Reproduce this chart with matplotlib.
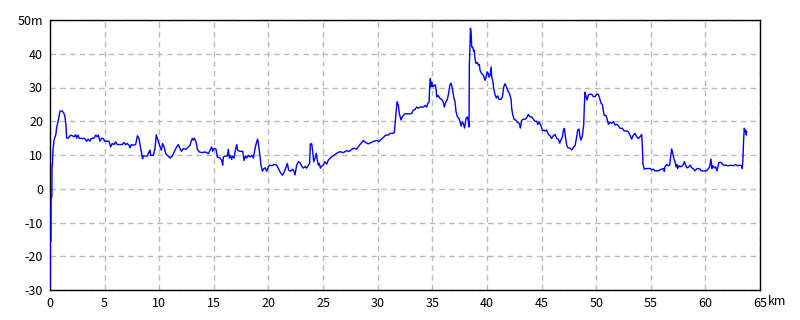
import numpy as np
import matplotlib.pyplot as plt

plt.rcParams['font.family'] = ['Noto Sans CJK JP', 'DejaVu Sans']

# distance (km) and elevation (m)
dist_km = [
    0.0, 0.02, 0.09, 0.1, 0.17, 0.19, 0.22, 0.27, 0.37, 0.46, 0.55, 0.61, 0.70, 0.82, 0.92,
    1.13, 1.28, 1.37, 1.46, 1.53, 1.68, 1.89, 2.04, 2.2, 2.35, 2.44, 2.56, 2.69, 2.81,
    3.17, 3.36, 3.5, 3.66, 3.78, 4.03, 4.18, 4.33, 4.42, 4.58, 4.7, 4.88, 5.0, 5.4,
    5.55, 5.7, 5.86, 6.0, 6.16, 6.62, 6.77, 6.93, 7.08, 7.23, 7.32, 7.45, 7.63, 7.84,
    8.0, 8.15, 8.3, 8.39, 8.48, 8.54, 8.91, 9.06, 9.15, 9.22, 9.46, 9.61, 9.73, 9.85,
    9.97, 10.19, 10.31, 10.44, 10.6, 10.8, 10.99, 11.2,
    11.44, 11.6, 11.75, 11.9, 12.05, 12.2, 12.45, 12.67, 12.82, 12.91, 13.03, 13.12,
    13.21, 13.37, 13.49, 13.67, 13.88, 14.19, 14.34, 14.5, 14.65, 14.8, 14.89, 15.01,
    15.2, 15.32, 15.56, 15.72, 15.81, 15.87, 16.02, 16.23, 16.33, 16.42, 16.54, 16.63,
    16.72, 16.85, 16.97, 17.09, 17.18, 17.39, 17.64, 17.76, 17.88, 18.0, 18.16, 18.31,
    18.49, 18.62, 18.77, 18.92, 19.01, 19.1, 19.23, 19.32, 19.44, 19.59, 19.71, 19.84,
    19.99, 20.14, 20.29, 20.51, 20.75, 20.9, 21.06, 21.27, 21.42, 21.54, 21.73, 21.85,
    22.03, 22.22, 22.34,
    22.43, 22.58, 22.74, 22.89, 23.04, 23.19, 23.35, 23.5, 23.65, 23.77, 23.83, 23.96,
    24.05, 24.14, 24.26, 24.38, 24.47, 24.57, 24.66, 24.75, 24.87, 25.02, 25.18, 25.33,
    25.48, 25.79, 26.03, 26.34, 26.55, 26.85, 27.16, 27.37, 27.62, 27.86, 28.07, 28.23,
    28.53, 28.69, 28.9, 29.14, 29.39, 29.6, 29.9, 30.12, 30.3, 30.52, 30.73, 30.97,
    31.13, 31.34, 31.52, 31.65, 31.77, 31.89, 31.98, 32.13, 32.26, 32.5, 32.96, 33.11,
    33.26,
    33.42, 33.57, 33.73, 33.88, 34.18, 34.34, 34.49, 34.58, 34.7, 34.76, 34.82, 34.88,
    34.95, 35.04, 35.16, 35.25, 35.34, 35.4, 35.5, 35.62, 35.71, 35.86, 36.01, 36.1,
    36.23, 36.38, 36.47, 36.6, 36.72, 36.84, 36.96, 37.08, 37.17, 37.3, 37.45, 37.54,
    37.63, 37.75, 37.87, 37.95, 38.09, 38.21, 38.3, 38.36, 38.39, 38.45, 38.49, 38.55,
    38.61, 38.7, 38.79, 38.85, 38.91, 39.0, 39.13, 39.22, 39.31, 39.37, 39.52, 39.68,
    39.83, 39.92, 40.01, 40.13, 40.19, 40.29, 40.38, 40.44, 40.53, 40.62, 40.74, 40.87,
    40.99, 41.11, 41.29, 41.42, 41.54, 41.66, 41.78, 41.9, 42.06, 42.21, 42.27, 42.36,
    42.48, 42.64, 42.82, 42.97, 43.06, 43.18, 43.34, 43.49, 43.64, 43.79, 43.95, 44.1,
    44.25, 44.4, 44.56, 44.65, 44.77, 44.96, 45.08, 45.26,
    45.32, 45.47, 45.63, 45.78, 45.93, 46.08, 46.24, 46.39, 46.54, 46.66, 46.78, 46.91,
    47.0, 47.09, 47.21, 47.3, 47.4, 47.61, 47.76, 47.91, 48.07, 48.22, 48.31, 48.43,
    48.52, 48.62, 48.74, 48.86, 48.92, 48.98, 49.07, 49.17, 49.29, 49.44, 49.59, 49.74,
    49.9, 50.05, 50.2, 50.32, 50.45, 50.57, 50.66, 50.75, 50.9, 51.03, 51.12, 51.27,
    51.42, 51.58, 51.73, 51.88, 52.03, 52.19, 52.4, 52.58, 52.8, 52.95, 53.1, 53.25,
    53.41, 53.56, 53.71, 53.86, 54.02, 54.17, 54.23, 54.29, 54.41, 54.63, 54.93, 55.09,
    55.24, 55.39, 55.7, 55.85, 56.0, 56.15, 56.24,
    56.3, 56.45, 56.6, 56.73, 56.82, 56.91, 57.0, 57.09, 57.22, 57.31, 57.4, 57.46,
    57.58, 57.73, 57.89, 57.98, 58.07, 58.19, 58.31, 58.5, 58.62, 58.74, 58.89, 59.05,
    59.2, 59.35, 59.5, 59.6, 59.81, 60.11, 60.27, 60.39, 60.51, 60.6, 60.69, 60.82,
    60.94, 61.06, 61.15, 61.24, 61.43, 61.64, 61.85, 62.1, 62.34, 62.56, 62.77, 62.95,
    63.17, 63.32, 63.38, 63.44, 63.5, 63.56, 63.62, 63.69, 63.75, 63.78,
]
elev_m = [
    -30, -15.5, -15.5, -2.5, -2.5, 7, 7, 11.4, 14.4, 15.4, 16.3, 18.3, 19.3, 21.3, 23,
    23, 22.3, 21.3, 18.8, 15, 15, 15.9, 15.7, 15.4, 16, 15, 15.9, 14.9, 14.9,
    14.9, 14.1, 14.7, 14.1, 14.9, 15, 15.9, 15.4, 15.9, 14.1, 14.9, 14.9, 14.1, 14.1,
    12.4, 13.4, 13.1, 13.9, 13.1, 13.1, 13.7, 13.1, 13.4, 12.9, 12.1, 13.1, 12.9, 13.1,
    15.7, 14.9, 11.9, 10.4, 8.9, 9.7, 9.7, 10.9, 11.4, 9.9, 9.9, 11.9, 16, 14.7,
    13.4, 11.4, 13.4, 12.4, 10.4, 9.7, 9.1, 9.7,
    11.4, 12.4, 13.1, 11.9, 11.1, 11.9, 11.7, 12.4, 12.9, 13.9, 14.9, 14.4,
    15, 13.9, 11.7, 10.9, 10.7, 10.9, 10.7, 10.4, 11.4, 12.4, 11.1, 11.9,
    11.7, 9.4, 9.1, 8.4, 7, 9.4, 9.7, 9.7, 11.7, 9.1, 9.9, 8.7,
    9.7, 9.1, 11.4, 13.1, 11.4, 11.1, 11.1, 8.4, 9.7, 9.1, 9.9, 9.4,
    9.9, 9.1, 11.9, 13.9, 14.7, 12.9, 9.4, 7, 5.2, 6, 6.2, 5.2,
    6.5, 7, 6.8, 7.2, 7, 6, 5, 4, 4.8, 5.8, 7.5, 5.5,
    5.2, 5.8, 5.2,
    4.1, 7.0, 8.0, 7.7, 6.7, 6.1, 6.6, 6.1, 7.0, 7.5, 13.3, 13.3,
    11, 8.0, 9.0, 10.5, 8.5, 7, 7.5, 6.1, 6.7, 7, 8.0, 7.3,
    8.5, 9.5, 10, 10.7, 11, 10.7, 11.3, 11, 11.7, 12, 11.7, 12.5,
    13.7, 14.3, 13.7, 13.3, 13.7, 14, 14.3, 14, 14.6, 15.2, 15.9, 15.9,
    16.4, 16.4, 16.6, 21.4, 25.8, 24.8, 22.3, 20.4, 21.4, 22.2, 22.2, 22.3,
    23.3,
    23.5, 24.2, 23.9, 24.2, 24.2, 24.7, 24.2, 25.2, 25.7, 30.2, 32.6, 30.2,
    31.6, 30.2, 30.6, 30.8, 29.7, 27.2, 27.7, 27.2, 26.7, 26.5, 25.7, 24.2,
    25.7, 26.5, 27.9, 30.6, 31.3, 29.7, 27.2, 25.7, 22.9, 21.3, 20.8, 19.8,
    18.6, 19.8, 19, 18, 20.8, 21.3, 20, 18.3, 36.6, 42.5, 47.6, 46.4,
    42, 42, 40.7, 41, 38.5, 37.1, 37.4, 36.6, 36.8, 35.1, 34.1, 33.6,
    32.1, 33.1, 34.6, 34.1, 33.1, 33.6, 36.1, 33.1, 32.1, 29.7, 27.9, 26.9,
    27.5, 26.5, 26.5, 27.2, 30.2, 31.1, 30.2, 29.2, 28.2, 26.5, 23.7, 22,
    20.6, 20.3, 19.6, 19.3, 18, 20.3, 20.6, 20.6, 21, 22, 21.3, 21.3,
    20.6, 20, 20, 19, 19.8, 18.6, 17.3, 17.3,
    17.1, 17.4, 16.1, 15.7, 14.9, 15.7, 16.1, 14.9, 14.7, 13.5, 14.4, 15.4,
    17.4, 17.9, 14.9, 13, 12.2, 12, 11.5, 12.2, 12.8, 15.4, 17.4, 17.7,
    15.4, 14.4, 15.7, 18.9, 24.8, 28.6, 27.3, 26.3, 27.8, 28, 28, 27.3,
    27.3, 28, 28, 26.8, 25.3, 25, 23, 21.7, 21.7, 20.4, 19.1, 19.7,
    19.4, 19.9, 18.9, 19.1, 18.7, 17.9, 17.9, 17.1, 17.1, 16.9, 15.9, 14.7,
    15.9, 16.4, 15.4, 14.9, 15.4, 16.1, 12.5, 7.2, 5.8, 6.0, 6.0, 5.6,
    5.8, 5.3, 5.3, 5.6, 5.8, 6.0, 5.1,
    6.5, 7.2, 6.8, 7.0, 9.5, 11.8, 10.8, 9.2, 8.0, 6.5, 7.2, 6.0,
    6.8, 6.5, 6.8, 7.2, 8.0, 7.0, 6.2, 6.5, 7.0, 6.2, 6.0, 5.3,
    5.85, 6.0, 5.85, 5.3, 5.3, 5.3, 6.0, 6.5, 8.8, 6.0, 6.8, 6.2,
    6.5, 5.3, 6.5, 7.8, 7.8, 7.0, 7.0, 6.8, 7.0, 6.8, 7.2, 6.8,
    7.0, 6.8, 6.0, 9.0, 14.4, 17.9, 16.9, 17.4, 15.9, 16.9,
]

x_ticks = list(range(0, 66, 5))
x_labels = [str(v) for v in x_ticks]
y_ticks = list(range(-30, 51, 10))
y_labels = [str(v) for v in y_ticks[:-1]] + ['50m']

fig = plt.figure(figsize=(8, 3.2), dpi=100)
ax = fig.add_axes([50 / 800, 30 / 320, 710 / 800, 270 / 320])

ax.plot(dist_km, elev_m, color='#0000ff', linewidth=1.0, zorder=3)

ax.set_xlim(0, 65)
ax.set_ylim(-30, 50)
ax.set_xticks(x_ticks)
ax.set_xticklabels(x_labels)
ax.set_yticks(y_ticks)
ax.set_yticklabels(y_labels)
ax.tick_params(length=0, labelsize=9, pad=5)
# unit after the last x tick label
ax.annotate('km', xy=(1, 0), xycoords='axes fraction', xytext=(8, -5),
            textcoords='offset pixels', ha='left', va='top', fontsize=9)

ax.grid(True, color='#bbbbbb', linestyle=(0, (4, 3)), linewidth=1)
for s in ax.spines.values():
    s.set_color('black')
    s.set_linewidth(1)

plt.savefig('out.png', dpi=100)
